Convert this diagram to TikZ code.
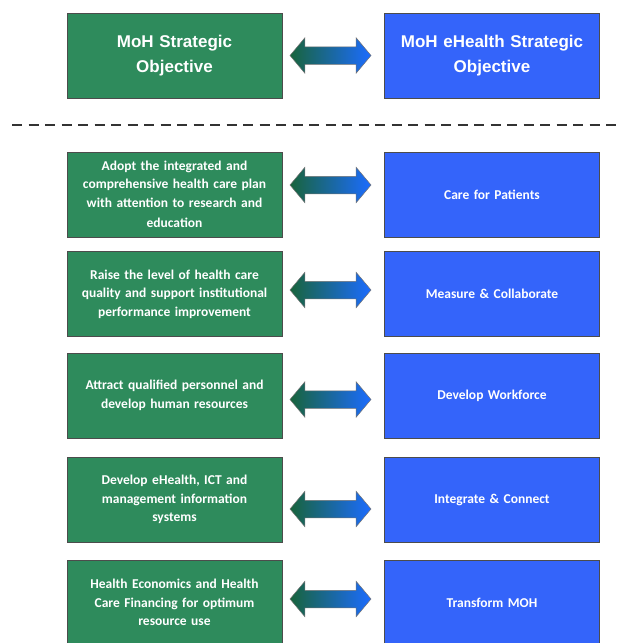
\documentclass[tikz,border=0pt]{standalone}
\usepackage{fontspec}
\setmainfont{Carlito}
\newfontfamily\headfont{Liberation Sans}
\usetikzlibrary{shapes.arrows}
\definecolor{mohgreen}{RGB}{46,139,92}
\definecolor{mohblue}{RGB}{52,100,250}
\definecolor{arrgreen}{RGB}{24,100,60}
\definecolor{arrblue}{RGB}{28,108,255}

\begin{document}
\begin{tikzpicture}[x=1pt,y=-1pt,
  objbox/.style={rectangle,draw=black!70,line width=0.8pt,text=white,minimum height=85pt,align=center,font=\bfseries\fontsize{13.5}{18.5}\selectfont},
  moh/.style={objbox,fill=mohgreen,minimum width=215pt,text width=208pt},
  ehealth/.style={objbox,fill=mohblue,minimum width=214pt,text width=208pt},
  headtxt/.style={font=\headfont\bfseries\fontsize{17}{25}\selectfont},
  link/.style={double arrow,draw=black!55,line width=0.5pt,left color=arrgreen,right color=arrblue,minimum height=81pt,inner xsep=0pt,inner ysep=8.5pt,double arrow head extend=9pt,double arrow tip angle=100},
  divider/.style={line width=2.6pt,black!80,dash pattern=on 10pt off 6.5pt}]
\useasboundingbox (0,0) rectangle (620,643);
\node[moh,headtxt] (moh0) at (174.5,55.5) {MoH Strategic\\Objective};
\node[ehealth,headtxt] (eh0) at (492,55.5) {MoH eHealth Strategic\\Objective};
\node[link] (lk0) at (330.5,55.5) {};
\draw[divider] (12,125) -- (617,125);
\node[moh] (moh1) at (174.5,194.5) {Adopt the integrated and\\comprehensive health care plan\\with attention to research and\\[2pt]education};
\node[ehealth] (eh1) at (492,194.5) {Care for Patients};
\node[link] (lk1) at (330.5,185) {};
\node[moh] (moh2) at (174.5,294) {Raise the level of health care\\quality and support institutional\\performance improvement};
\node[ehealth] (eh2) at (492,294) {Measure \& Collaborate};
\node[link] (lk2) at (330.5,290) {};
\node[moh] (moh3) at (174.5,395.5) {Attract qualified personnel and\\develop human resources};
\node[ehealth] (eh3) at (492,395.5) {Develop Workforce};
\node[link] (lk3) at (330.5,399.5) {};
\node[moh] (moh4) at (174.5,499.5) {Develop eHealth, ICT and\\management information\\systems};
\node[ehealth] (eh4) at (492,499.5) {Integrate \& Connect};
\node[link] (lk4) at (330.5,509) {};
\node[moh] (moh5) at (174.5,602.5) {Health Economics and Health\\Care Financing for optimum\\resource use};
\node[ehealth] (eh5) at (492,602.5) {Transform MOH};
\node[link] (lk5) at (330.5,599) {};
\end{tikzpicture}
\end{document}
